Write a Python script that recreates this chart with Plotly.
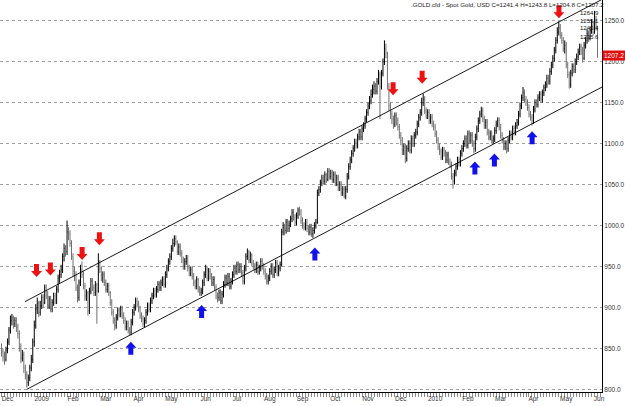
import plotly.graph_objects as go

# ---------------- data (daily bars) ----------------
close = [
    846, 840, 836, 848, 858, 872, 884, 887, 880, 884,
    876, 868, 852, 838, 842, 826, 818, 808, 814, 826,
    836, 858, 878, 898, 905, 894, 902, 912, 906, 924,
    915, 902, 910, 898, 906, 914, 908, 922, 936, 940,
    946, 962, 972, 968, 992, 990, 978, 962, 944, 940,
    924, 912, 930, 946, 940, 926, 914, 918, 896, 920,
    932, 924, 918, 928, 920, 954, 948, 936, 940, 930,
    922, 926, 918, 906, 894, 884, 878, 888, 896, 892,
    898, 890, 884, 876, 880, 872, 870, 882, 894, 900,
    908, 904, 898, 890, 886, 880, 884, 894, 902, 898,
    908, 914, 920, 916, 922, 928, 924, 930, 934, 928,
    940, 948, 956, 962, 972, 978, 984, 980, 968, 974,
    966, 958, 950, 956, 960, 948, 942, 946, 938, 930,
    926, 934, 922, 918, 920, 930, 940, 946, 936, 944,
    938, 930, 934, 924, 914, 912, 918, 908, 916, 928,
    936, 930, 938, 926, 932, 940, 948, 944, 952, 946,
    950, 942, 932, 948, 962, 968, 958, 964, 954, 950,
    946, 952, 944, 948, 956, 950, 944, 938, 932, 936,
    944, 950, 940, 946, 954, 942, 948, 952, 992, 998,
    994, 1004, 996, 1002, 1008, 1016, 1010, 1004, 1012, 1018,
    1016, 1006, 1000, 998, 1004, 996, 992, 998, 990, 994,
    1000, 1004, 1040, 1044, 1052, 1058, 1054, 1062, 1056, 1066,
    1060, 1064, 1056, 1062, 1052, 1058, 1046, 1050, 1040, 1044,
    1036, 1044, 1060, 1072, 1080, 1088, 1094, 1102, 1098, 1108,
    1114, 1108, 1118, 1122, 1130, 1138, 1146, 1152, 1160, 1166,
    1170, 1164, 1176, 1184, 1170, 1186, 1200, 1216, 1210, 1170,
    1146, 1136, 1130, 1124, 1134, 1128, 1120, 1110, 1104, 1092,
    1096, 1082, 1094, 1100, 1092, 1106, 1100, 1110, 1114, 1124,
    1132, 1138, 1150, 1154, 1140, 1134, 1138, 1128, 1132, 1124,
    1120, 1112, 1104, 1096, 1090, 1084, 1092, 1088, 1080, 1086,
    1078, 1074, 1060, 1054, 1064, 1072, 1080, 1076, 1088, 1094,
    1100, 1106, 1098, 1112, 1104, 1110, 1100, 1094, 1108, 1118,
    1128, 1136, 1140, 1130, 1122, 1126, 1114, 1108, 1112, 1104,
    1106, 1116, 1124, 1128, 1120, 1110, 1104, 1096, 1100, 1094,
    1104, 1112, 1108, 1118, 1114, 1122, 1126, 1136, 1146, 1156,
    1162, 1154, 1150, 1144, 1136, 1132, 1128, 1142, 1150, 1148,
    1156, 1160, 1154, 1162, 1168, 1172, 1180, 1176, 1188, 1196,
    1204, 1214, 1226, 1236, 1242, 1232, 1226, 1216, 1220, 1196,
    1184, 1172, 1186, 1194, 1190, 1200, 1206, 1212, 1218, 1214,
    1204, 1220, 1226, 1234, 1228, 1238, 1244, 1236, 1248, 1241.4,
    1207.2,
]
high = [
    856, 850, 846, 852, 862, 876, 890, 892, 890, 888,
    888, 880, 872, 856, 848, 846, 830, 822, 818, 830,
    842, 862, 884, 904, 912, 908, 908, 916, 916, 928,
    928, 920, 914, 914, 910, 918, 918, 926, 940, 946,
    952, 966, 978, 976, 1006, 998, 994, 982, 966, 950,
    944, 928, 934, 952, 956, 944, 930, 922, 920, 924,
    936, 936, 928, 932, 930, 966, 958, 950, 944, 944,
    934, 930, 930, 920, 910, 898, 888, 892, 900, 900,
    902, 902, 894, 888, 884, 884, 876, 886, 898, 904,
    912, 912, 908, 902, 894, 890, 888, 898, 906, 906,
    912, 918, 924, 924, 926, 932, 932, 934, 938, 938,
    944, 952, 960, 966, 976, 984, 988, 988, 982, 978,
    978, 970, 962, 960, 964, 964, 952, 950, 950, 942,
    934, 938, 936, 926, 924, 934, 944, 952, 950, 948,
    948, 942, 938, 938, 928, 918, 922, 922, 920, 932,
    940, 940, 942, 942, 936, 944, 952, 952, 956, 956,
    954, 954, 946, 952, 966, 972, 970, 968, 966, 958,
    954, 956, 956, 952, 960, 960, 954, 948, 942, 940,
    948, 954, 954, 950, 958, 958, 952, 956, 996, 1004,
    1002, 1008, 1008, 1006, 1012, 1020, 1020, 1014, 1016, 1022,
    1023, 1020, 1010, 1004, 1008, 1008, 1000, 1002, 1002, 998,
    1004, 1008, 1044, 1048, 1056, 1062, 1062, 1066, 1064, 1070,
    1070, 1068, 1068, 1066, 1066, 1062, 1062, 1054, 1054, 1048,
    1048, 1048, 1064, 1076, 1084, 1092, 1098, 1106, 1106, 1112,
    1118, 1118, 1122, 1126, 1134, 1142, 1150, 1158, 1166, 1172,
    1176, 1174, 1180, 1190, 1188, 1190, 1204, 1226, 1222, 1212,
    1174, 1150, 1140, 1134, 1138, 1138, 1132, 1124, 1114, 1108,
    1100, 1100, 1098, 1104, 1104, 1110, 1110, 1114, 1118, 1128,
    1136, 1142, 1156, 1161, 1158, 1144, 1142, 1142, 1136, 1136,
    1128, 1124, 1116, 1108, 1100, 1094, 1096, 1096, 1092, 1090,
    1090, 1082, 1078, 1064, 1068, 1076, 1084, 1084, 1092, 1098,
    1104, 1110, 1110, 1116, 1116, 1114, 1114, 1104, 1112, 1122,
    1132, 1140, 1145, 1144, 1134, 1130, 1130, 1118, 1116, 1116,
    1110, 1120, 1128, 1132, 1132, 1124, 1114, 1108, 1104, 1104,
    1108, 1116, 1116, 1122, 1122, 1126, 1130, 1140, 1150, 1160,
    1169, 1166, 1158, 1154, 1148, 1140, 1136, 1146, 1154, 1154,
    1160, 1164, 1164, 1166, 1172, 1176, 1184, 1184, 1192, 1200,
    1208, 1218, 1230, 1242, 1249, 1246, 1236, 1230, 1226, 1224,
    1200, 1188, 1190, 1198, 1198, 1204, 1210, 1216, 1222, 1222,
    1218, 1224, 1230, 1240, 1238, 1242, 1252, 1250, 1262, 1256,
    1243.8,
]
low = [
    840, 834, 830, 834, 844, 854, 868, 878, 874, 876,
    870, 862, 846, 832, 834, 820, 812, 802, 804, 810,
    822, 832, 852, 874, 892, 888, 890, 898, 900, 904,
    910, 898, 898, 894, 894, 902, 904, 904, 918, 930,
    936, 942, 956, 962, 964, 982, 974, 958, 938, 932,
    920, 906, 908, 926, 936, 922, 908, 908, 890, 892,
    916, 920, 914, 914, 880, 918, 942, 932, 930, 926,
    918, 918, 914, 902, 890, 880, 872, 874, 884, 888,
    888, 886, 880, 872, 872, 868, 866, 866, 878, 890,
    896, 900, 894, 886, 882, 876, 876, 880, 890, 894,
    894, 904, 910, 912, 912, 918, 920, 920, 926, 924,
    924, 936, 944, 952, 958, 968, 974, 976, 964, 964,
    962, 954, 946, 946, 952, 944, 938, 938, 934, 926,
    922, 922, 918, 914, 914, 916, 926, 936, 932, 932,
    934, 926, 926, 920, 910, 906, 908, 904, 904, 912,
    924, 926, 926, 922, 922, 928, 936, 940, 940, 942,
    942, 938, 928, 928, 944, 958, 954, 954, 950, 946,
    942, 942, 940, 940, 944, 946, 940, 934, 928, 928,
    932, 940, 936, 936, 942, 938, 938, 944, 950, 988,
    988, 990, 992, 992, 998, 1004, 1006, 1000, 1000, 1008,
    1012, 1002, 996, 994, 994, 992, 988, 988, 986, 985,
    990, 996, 1002, 1036, 1040, 1048, 1050, 1050, 1052, 1054,
    1056, 1056, 1052, 1052, 1048, 1048, 1042, 1042, 1036, 1036,
    1033, 1032, 1040, 1056, 1068, 1076, 1084, 1090, 1094, 1094,
    1104, 1104, 1104, 1114, 1118, 1126, 1134, 1142, 1148, 1156,
    1160, 1160, 1160, 1172, 1130, 1166, 1182, 1196, 1204, 1166,
    1140, 1130, 1124, 1118, 1120, 1122, 1116, 1106, 1098, 1086,
    1086, 1076, 1078, 1090, 1088, 1088, 1096, 1096, 1106, 1110,
    1120, 1128, 1134, 1146, 1136, 1130, 1130, 1124, 1124, 1120,
    1116, 1108, 1100, 1092, 1086, 1080, 1080, 1084, 1076, 1076,
    1074, 1070, 1056, 1045, 1050, 1060, 1068, 1072, 1072, 1084,
    1090, 1096, 1094, 1094, 1100, 1100, 1096, 1088, 1090, 1104,
    1114, 1124, 1132, 1126, 1118, 1118, 1110, 1104, 1104, 1100,
    1100, 1102, 1112, 1120, 1116, 1106, 1100, 1092, 1092, 1088,
    1090, 1100, 1104, 1104, 1110, 1110, 1118, 1122, 1132, 1142,
    1152, 1150, 1146, 1140, 1132, 1128, 1122, 1124, 1138, 1144,
    1144, 1152, 1150, 1150, 1158, 1164, 1168, 1172, 1172, 1184,
    1192, 1200, 1210, 1222, 1232, 1228, 1222, 1212, 1210, 1192,
    1180, 1167, 1168, 1182, 1186, 1186, 1196, 1202, 1208, 1208,
    1199, 1202, 1216, 1222, 1224, 1226, 1234, 1232, 1234, 1238,
    1204.8,
]
first_open = 850
open_ = [first_open] + close[:-1]
bar_idx = list(range(len(close)))

tick_idx = [4, 27, 48, 70, 92, 114, 137, 158, 180, 202, 224, 246, 268, 291, 313, 335, 357, 379, 401]
tick_text = ["Dec", "2009", "Feb", "Mar", "Apr", "May", "Jun", "Jul", "Aug", "Sep",
             "Oct", "Nov", "Dec", "2010", "Feb", "Mar", "Apr", "May", "Jun"]
price_ticks = [800, 850, 900, 950, 1000, 1050, 1100, 1150, 1200, 1250]

# channel lines (endpoints: bar index, price)
upper_x = [15.7, 403]
upper_y = [907, 1276]
lower_x = [17, 403]
lower_y = [800, 1169]

# signal arrows (tip position: bar index, price)
red_idx = [23.5, 32.8, 54.1, 65.7, 262.8, 282.3, 374.1]
red_price = [937, 939, 958, 976, 1159, 1173, 1253]
blue_idx = [86.8, 134.3, 210.3, 317.7, 330.8, 356.1]
blue_price = [858, 903, 973, 1078, 1088, 1115]

# price labels stacked at the top right
level_labels = [1264.9, 1255.1, 1245.4, 1235.6]

# ---------------- figure ----------------
FONT = "Liberation Sans"
fig = go.Figure()
fig.add_trace(go.Ohlc(
    x=bar_idx, open=open_, high=high, low=low, close=close,
    increasing=dict(line=dict(color="#000000", width=1)),
    decreasing=dict(line=dict(color="#707070", width=1)),
    tickwidth=0.3, hoverinfo="skip", showlegend=False,
))
for xs, ys in ((upper_x, upper_y), (lower_x, lower_y)):
    fig.add_trace(go.Scatter(x=xs, y=ys, mode="lines",
                             line=dict(color="#000000", width=0.9),
                             hoverinfo="skip", showlegend=False))

DOWN = "M0,0 L-5.5,6 L-2.5,6 L-2.5,13 L2.5,13 L2.5,6 L5.5,6 Z"
UP = "M0,0 L-5.5,-6 L-2.5,-6 L-2.5,-13 L2.5,-13 L2.5,-6 L5.5,-6 Z"
shapes = []
for xi, yi in zip(red_idx, red_price):
    shapes.append(dict(type="path", xref="x", yref="y", xsizemode="pixel", ysizemode="pixel",
                       xanchor=xi, yanchor=yi, path=DOWN, fillcolor="#ee1111",
                       line=dict(width=0)))
for xi, yi in zip(blue_idx, blue_price):
    shapes.append(dict(type="path", xref="x", yref="y", xsizemode="pixel", ysizemode="pixel",
                       xanchor=xi, yanchor=yi, path=UP, fillcolor="#1111ee",
                       line=dict(width=0)))

annotations = [
    dict(xref="paper", yref="paper", x=1.005, y=1.0, xanchor="right", yanchor="top",
         text=".GOLD.cfd - Spot Gold, USD C=%.1f H=%.1f L=%.1f C=%.1f"
              % (open_[-1], high[-1], low[-1], close[-1]),
         showarrow=False, borderpad=0, font=dict(family=FONT, size=6.2, color="#222222")),
    dict(xref="paper", yref="y", x=1.0, y=close[-1], xanchor="left", yanchor="middle",
         text="%.1f" % close[-1], showarrow=False, bgcolor="#e01010",
         font=dict(family=FONT, size=6.5, color="#ffffff"), borderpad=1),
]
for v in level_labels:
    annotations.append(dict(xref="paper", yref="y", x=0.996, y=v, xanchor="right", yanchor="top",
                            text="%.1f" % v, showarrow=False, borderpad=0,
                            font=dict(family=FONT, size=6, color="#111111")))

fig.update_layout(
    width=625, height=406,
    margin=dict(l=0, r=19, t=0, b=14),
    paper_bgcolor="#ffffff", plot_bgcolor="#ffffff",
    showlegend=False, shapes=shapes, annotations=annotations,
    xaxis=dict(range=[-1, 403], rangeslider=dict(visible=False), showgrid=False,
               zeroline=False, showline=True, linecolor="#000000", linewidth=1,
               tickmode="array", tickvals=tick_idx, ticktext=tick_text,
               ticks="", tickfont=dict(family=FONT, size=6.5, color="#333333"),
               minor=dict(ticks="outside", ticklen=4, tickcolor="#8a8a8a", tickwidth=1,
                          tickmode="linear", tick0=0, dtick=2, showgrid=False)),
    yaxis=dict(range=[796.7, 1275.3], side="right", tickmode="array", tickvals=price_ticks,
               tickformat=".1f", showgrid=True, gridcolor="#a0a0a0", griddash="dot",
               gridwidth=1, zeroline=False, showline=True, linecolor="#000000",
               linewidth=1, ticks="", tickfont=dict(family=FONT, size=6.5, color="#333333")),
)

fig.write_html("out.html")
